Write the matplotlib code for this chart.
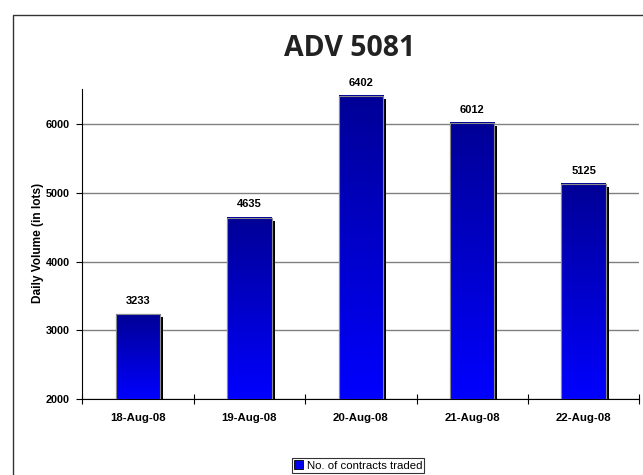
import matplotlib
matplotlib.use("Agg")
import matplotlib.pyplot as plt
import numpy as np
from matplotlib.transforms import offset_copy
from matplotlib.patches import Rectangle
from matplotlib.colors import LinearSegmentedColormap

categories = ["18-Aug-08", "19-Aug-08", "20-Aug-08", "21-Aug-08", "22-Aug-08"]
values = [3233, 4635, 6402, 6012, 5125]
title = "ADV 5081"
ylabel = "Daily Volume (in lots)"
legend_label = "No. of contracts traded"
yticks = [2000, 3000, 4000, 5000, 6000]

W, H = 643, 475
fig = plt.figure(figsize=(W / 100, H / 100), dpi=100)
fig.patch.set_facecolor("white")

# outer chart border
fig.patches.append(Rectangle((12.5 / W, -0.1), 2.0, (H - 15) / H + 0.1,
                             transform=fig.transFigure, fill=False,
                             edgecolor="#333333", linewidth=1.0))

left, right = 82.3, 639.3
top, bottom = 89.3, 399.3
ax = fig.add_axes([left / W, (H - bottom) / H, (right - left) / W, (bottom - top) / H])

x = np.arange(len(categories))
width = 0.4
ymin, ymax = 2000, 6500

# shadow bars
shadow_tr = offset_copy(ax.transData, fig=fig, x=3.0, y=-3.0, units="dots")
ax.bar(x, values, width, color="black", transform=shadow_tr, zorder=2)

bars = ax.bar(x, values, width, color="#0000dd", edgecolor="#8a8a8a",
              linewidth=0.8, zorder=3, label=legend_label)

cmap = LinearSegmentedColormap.from_list("g", ["#0000ff", "#000096"])
grad = np.linspace(0, 1, 256).reshape(-1, 1)
for b in bars:
    x0 = b.get_x()
    x1 = x0 + b.get_width()
    y1 = b.get_y() + b.get_height()
    ax.imshow(grad, extent=(x0, x1, ymin, y1), origin="lower", cmap=cmap,
              aspect="auto", zorder=3.5, interpolation="bilinear")
    r = Rectangle((x0, ymin), b.get_width(), y1 - ymin, fill=False,
                  edgecolor="#8a8a8a", linewidth=0.8, zorder=4)
    ax.add_patch(r)

for xi, v in zip(x, values):
    ax.annotate(str(v), (xi, v), xytext=(0, 6), textcoords="offset points",
                ha="center", va="bottom", fontsize=8, fontweight="bold",
                family="Liberation Sans", color="black")

ax.set_xlim(-0.5, len(categories) - 0.5)
ax.set_ylim(ymin, ymax)

ax.set_yticks(yticks)
ax.set_yticklabels([str(t) for t in yticks])
ax.yaxis.grid(True, color="#808080", linewidth=1.0, zorder=0)
ax.set_axisbelow(True)

ax.set_xticks(np.arange(-0.5, len(categories), 1.0))
ax.set_xticklabels([])
ax.set_xticks(x, minor=True)
ax.set_xticklabels(categories, minor=True)
ax.tick_params(axis="x", which="major", direction="inout", length=7, width=0.8)
ax.tick_params(axis="x", which="minor", length=0, pad=10)
ax.tick_params(axis="y", direction="out", length=4, width=0.8, pad=5)
for lab in ax.get_xticklabels(minor=True):
    lab.set_fontsize(8.2)
    lab.set_fontweight("bold")
    lab.set_family("Liberation Sans")
for lab in ax.get_yticklabels():
    lab.set_fontsize(7.8)
    lab.set_fontweight("bold")
    lab.set_family("Liberation Sans")

for s in ["top", "right"]:
    ax.spines[s].set_visible(False)
for s in ["left", "bottom"]:
    ax.spines[s].set_linewidth(0.8)
    ax.spines[s].set_color("black")

fig.text(37.5 / W, (H - 243) / H, ylabel, rotation=90, ha="center", va="center",
         fontsize=8.6, fontweight="bold", family="Liberation Sans")

fig.text(350 / W, (H - 48.5) / H, title, ha="center", va="center",
         fontsize=20.5, fontweight="bold", family="Open Sans", color="#222222")

leg = fig.legend(handles=[Rectangle((0, 0), 1, 1, facecolor="#0000ee", edgecolor="black", linewidth=0.6)],
                 labels=[legend_label], loc="center", bbox_to_anchor=(358 / W, (H - 465.5) / H),
                 frameon=True, fancybox=False, handlelength=0.8,
                 handleheight=0.8, handletextpad=0.3, borderpad=0.2,
                 prop={"family": "Liberation Sans", "size": 8.2})
leg.get_frame().set_edgecolor("black")
leg.get_frame().set_linewidth(0.8)

fig.savefig("out.png", dpi=100)
